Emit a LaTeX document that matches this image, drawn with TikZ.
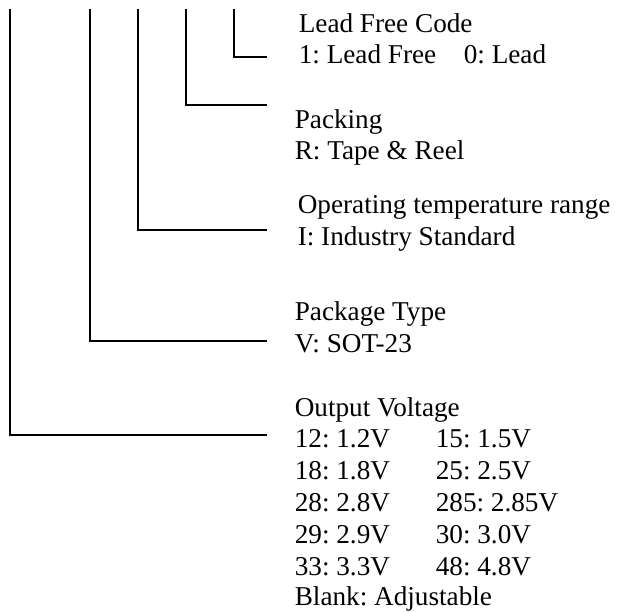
\documentclass[tikz,border=0pt]{standalone}
\usepackage{fontspec}
\setmainfont{Liberation Serif}
\frenchspacing
\begin{document}
\begin{tikzpicture}[x=1pt,y=-1pt,line width=1.6pt,
    lbl/.style={anchor=base west,inner sep=0pt,font=\fontsize{27.2}{32}\selectfont}]
    \useasboundingbox (0,0) rectangle (623,611);

    % Lead free code
    \node[lbl] (lf) at (298,32) {Lead Free Code};
    \node[lbl] (lfa) at (298,63) {1: Lead Free};
    \node[lbl] (lfb) at (463,63) {0: Lead};

    % Packing
    \node[lbl] (pk) at (294,128) {Packing};
    \node[lbl] (pka) at (294,159) {R: Tape \& Reel};

    % Operating temperature
    \node[lbl] (op) at (297,213) {Operating temperature range};
    \node[lbl] (opa) at (297,245) {I: Industry Standard};

    % Package type
    \node[lbl] (pt) at (294,320) {Package Type};
    \node[lbl] (pta) at (294,352) {V: SOT-23};

    % Output voltage
    \node[lbl] (ov) at (294,416) {Output Voltage};
    \node[lbl] (v12) at (294,447) {12: 1.2V};
    \node[lbl] (v15) at (435,447) {15: 1.5V};
    \node[lbl] (v18) at (294,479) {18: 1.8V};
    \node[lbl] (v25) at (435,479) {25: 2.5V};
    \node[lbl] (v28) at (294,511) {28: 2.8V};
    \node[lbl] (v285) at (435,511) {285: 2.85V};
    \node[lbl] (v29) at (294,543) {29: 2.9V};
    \node[lbl] (v30) at (435,543) {30: 3.0V};
    \node[lbl] (v33) at (294,575) {33: 3.3V};
    \node[lbl] (v48) at (435,575) {48: 4.8V};
    \node[lbl] (vb) at (294,605) {Blank: Adjustable};

    % Hooks
    \coordinate (t1) at (10,9);   \coordinate (e1) at (267,435);
    \coordinate (t2) at (90,9);   \coordinate (e2) at (267,341);
    \coordinate (t3) at (138,9);  \coordinate (e3) at (267,230);
    \coordinate (t4) at (186,9);  \coordinate (e4) at (267,105);
    \coordinate (t5) at (234,9);  \coordinate (e5) at (267,57);
    \draw (t1) |- (e1);
    \draw (t2) |- (e2);
    \draw (t3) |- (e3);
    \draw (t4) |- (e4);
    \draw (t5) |- (e5);
\end{tikzpicture}
\end{document}
